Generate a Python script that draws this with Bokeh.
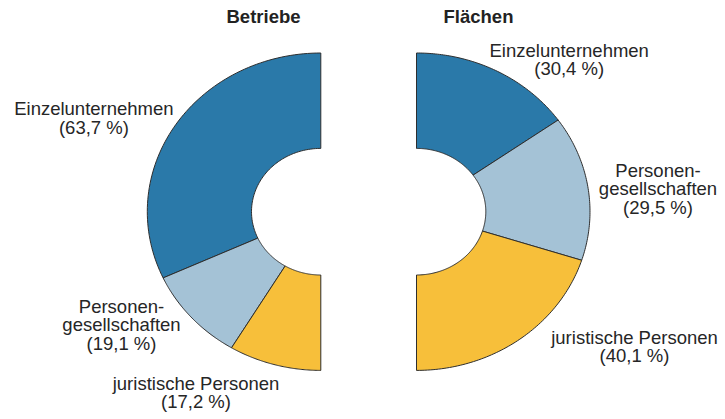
import numpy as np
from bokeh.plotting import figure
from bokeh.models import Range1d, ColumnDataSource
from bokeh.core.properties import value
from bokeh.embed import file_html
from bokeh.resources import INLINE

# ---- data ----
categories = ["Einzelunternehmen", "Personengesellschaften", "juristische Personen"]
betriebe = [63.7, 19.1, 17.2]
flaechen = [30.4, 29.5, 40.1]
label_lines = [["Einzelunternehmen"], ["Personen-", "gesellschaften"], ["juristische Personen"]]
titles = ["Betriebe", "Flächen"]
colors = ["#2a79a9", "#a4c2d6", "#f7bf3a"]

# ---- layout (page pixel coordinates) ----
W, H = 725, 419
CY = 211.2
RX, RY = 173.5, 158.7
IRX, IRY = 69.3, 63.3
LEFT_CX, RIGHT_CX = 320.3, 416.0
FONT = "Liberation Sans"
FS = "18.5px"
LH = 18.5
DY = -6  # baseline correction

p = figure(width=W, height=H, output_backend="svg", toolbar_location=None,
           x_range=Range1d(0, W), y_range=Range1d(H, 0),
           min_border=0, outline_line_color=None, x_axis_type=None, y_axis_type=None)
p.grid.visible = False
p.background_fill_color = "white"
p.border_fill_color = "white"


def wedge(cx, a0, a1, n=80):
    t = np.radians(np.linspace(a0, a1, n))
    xo = cx + RX * np.cos(t)
    yo = CY - RY * np.sin(t)
    xi = cx + IRX * np.cos(t[::-1])
    yi = CY - IRY * np.sin(t[::-1])
    return list(np.concatenate([xo, xi])), list(np.concatenate([yo, yi]))


def half_donut(cx, values, direction):
    xs, ys = [], []
    a = 90.0
    for v in values:
        span = 180.0 * v / sum(values)
        b = a + direction * span
        x, y = wedge(cx, a, b)
        xs.append(x)
        ys.append(y)
        a = b
    src = ColumnDataSource(dict(xs=xs, ys=ys, color=colors))
    p.patches("xs", "ys", source=src, fill_color="color", line_color="#2e2e2e", line_width=1)


half_donut(LEFT_CX, betriebe, +1)
half_donut(RIGHT_CX, flaechen, -1)


def fmt(v):
    return "(" + f"{v:.1f}".replace(".", ",") + " %)"


def label(x, y_first, lines):
    ys = [y_first + DY + i * LH for i in range(len(lines))]
    p.text(x=[x] * len(lines), y=ys, text=lines, text_align="center",
           text_baseline="alphabetic", text_font=value(FONT), text_font_size=FS,
           text_color="#262626")


# titles
p.text(x=[263, 478], y=[21.7 + DY, 21.7 + DY], text=titles, text_align="center",
       text_baseline="alphabetic", text_font=value(FONT), text_font_size="18.5px",
       text_font_style="bold", text_color="#222222")

# left labels
left_pos = [(93.4, 114.0), (121.0, 311.5), (195.5, 388.5)]
for (x, y), lines, v in zip(left_pos, label_lines, betriebe):
    label(x, y, lines + [fmt(v)])

# right labels
right_pos = [(568.7, 55.5), (657.5, 175.7), (634.0, 342.5)]
for (x, y), lines, v in zip(right_pos, label_lines, flaechen):
    label(x, y, lines + [fmt(v)])

open("out.html", "w").write(file_html(p, INLINE))
